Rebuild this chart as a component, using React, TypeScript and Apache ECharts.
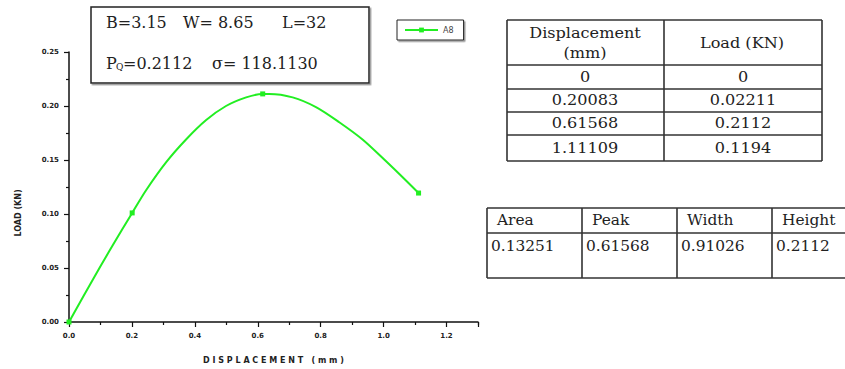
import React, { useEffect, useRef } from "react";
import * as echarts from "echarts";

// Curve, marker points, tick config
const curveX = [0.081, 0.139, 0.245, 0.309, 0.372, 0.436, 0.499, 0.563, 0.637, 0.711, 0.785, 0.859, 0.933, 1.007, 1.071];
const curveY = [0.042, 0.071, 0.122, 0.148, 0.169, 0.187, 0.2, 0.208, 0.2112, 0.208, 0.199, 0.185, 0.169, 0.149, 0.131];
const markerX = [0, 0.20083, 0.61568, 1.11109];
const markerY = [0, 0.101, 0.2112, 0.1194];
const seriesName = "A8";

const infoLine1 = ["B=3.15", "W= 8.65", "L=32"];
const infoPq = ["P", "Q", "=0.2112"];
const infoSigma = "σ= 118.1130";

const table1Header = ["Displacement", "(mm)", "Load (KN)"];
const table1Disp = ["0", "0.20083", "0.61568", "1.11109"];
const table1Load = ["0", "0.02211", "0.2112", "0.1194"];

const table2Header = ["Area", "Peak", "Width", "Height"];
const table2Values = ["0.13251", "0.61568", "0.91026", "0.2112"];

const App: React.FC = () => {
  const ref = useRef<HTMLDivElement>(null);

  useEffect(() => {
    if (!ref.current) return;
    const chart = echarts.init(ref.current, null, { renderer: "svg" });

    const pts: any[] = [];
    curveX.forEach((x, i) => pts.push({ value: [x, curveY[i]], symbol: "none" }));
    markerX.forEach((x, i) => pts.push({ value: [x, markerY[i]] }));
    pts.sort((a, b) => a.value[0] - b.value[0]);

    const serif = "DejaVu Serif";
    const txt = (text: string, x: number, y: number, opts: any = {}) => ({
      type: "text",
      x,
      y,
      scaleX: opts.scaleX ?? 1,
      z: 20,
      style: {
        text,
        fill: "#222",
        fontFamily: serif,
        fontSize: opts.fontSize ?? 14,
        align: opts.align ?? "center",
        verticalAlign: "middle",
      },
    });
    const ln = (x1: number, y1: number, x2: number, y2: number) => ({
      type: "line",
      z: 19,
      shape: { x1, y1, x2, y2 },
      style: { stroke: "#333", lineWidth: 1.6 },
    });

    const graphics: any[] = [];
    // info box
    graphics.push({
      type: "rect",
      z: 15,
      shape: { x: 91, y: 7, width: 278, height: 76 },
      style: { fill: "#fff", stroke: "#222", lineWidth: 1.5, shadowColor: "#999", shadowOffsetX: 1.5, shadowOffsetY: 1.5, shadowBlur: 0 },
    });
    const l1x = [106, 183, 282];
    infoLine1.forEach((t, i) => graphics.push(txt(t, l1x[i], 22, { align: "left", fontSize: 16 })));
    graphics.push(txt(infoPq[0], 106, 63, { align: "left", fontSize: 16 }));
    graphics.push(txt(infoPq[1], 116, 67, { align: "left", fontSize: 9 }));
    graphics.push(txt(infoPq[2], 123, 63, { align: "left", fontSize: 16 }));
    graphics.push(txt(infoSigma, 212, 63, { align: "left", fontSize: 16 }));

    // table 1
    const t1x = [507, 664, 822];
    const t1y = [20, 65, 89, 112, 135, 161];
    t1y.forEach((y) => graphics.push(ln(t1x[0], y, t1x[2], y)));
    t1x.forEach((x) => graphics.push(ln(x, t1y[0], x, t1y[t1y.length - 1])));
    graphics.push(txt(table1Header[0], 585, 33, { scaleX: 1.15 }));
    graphics.push(txt(table1Header[1], 585, 53, { scaleX: 1.15 }));
    graphics.push(txt(table1Header[2], 742, 43, { scaleX: 1.15 }));
    table1Disp.forEach((t, i) => {
      const cy = (t1y[i + 1] + t1y[i + 2]) / 2;
      graphics.push(txt(t, 585, cy, { scaleX: 1.15 }));
      graphics.push(txt(table1Load[i], 743, cy, { scaleX: 1.15 }));
    });

    // table 2
    const t2x = [487, 582, 677, 772, 880];
    const t2y = [208, 233, 278];
    t2y.forEach((y) => graphics.push(ln(t2x[0], y, t2x[t2x.length - 1], y)));
    t2x.forEach((x) => graphics.push(ln(x, t2y[0], x, t2y[t2y.length - 1])));
    table2Header.forEach((t, i) => {
      graphics.push(txt(t, t2x[i] + 10, 220, { align: "left", scaleX: 1.1 }));
      graphics.push(txt(table2Values[i], t2x[i] + 4, 246, { align: "left", scaleX: 1.1 }));
    });

    // y axis name
    graphics.push({
      type: "text",
      x: 18,
      y: 213,
      rotation: Math.PI / 2,
      z: 20,
      style: {
        text: "LOAD (KN)",
        fill: "#222",
        fontFamily: "DejaVu Sans",
        fontSize: 8,
        fontWeight: "bold",
        align: "center",
        verticalAlign: "middle",
      },
    });

    const tickLabel = {
      color: "#222",
      fontSize: 7,
      fontWeight: "bold",
      fontFamily: "DejaVu Sans",
    };

    chart.setOption({
      animation: false,
      backgroundColor: "#fff",
      grid: { left: 69, right: 367, top: 52, bottom: 40, containLabel: false },
      legend: {
        left: 397,
        top: 20,
        orient: "horizontal",
        data: [seriesName],
        itemWidth: 33,
        itemHeight: 6,
        padding: [6, 10, 6, 7],
        borderColor: "#222",
        borderWidth: 1,
        backgroundColor: "#fff",
        shadowColor: "#999",
        shadowOffsetX: 1.5,
        shadowOffsetY: 1.5,
        shadowBlur: 0,
        textStyle: { fontSize: 8, color: "#444", fontFamily: "DejaVu Sans" },
      },
      xAxis: {
        type: "value",
        min: 0,
        max: 1.3,
        interval: 0.2,
        name: "D I S P L A C E M E N T   ( m m )",
        nameLocation: "middle",
        nameGap: 34,
        nameTextStyle: { color: "#222", fontSize: 8, fontWeight: "bold", fontFamily: "DejaVu Sans" },
        axisLine: { show: true, lineStyle: { color: "#111", width: 1.5 } },
        axisTick: { show: true, inside: false, length: 5, lineStyle: { color: "#111", width: 1.2 } },
        minorTick: { show: true, splitNumber: 2, length: 3, lineStyle: { color: "#111", width: 1.2 } },
        splitLine: { show: false },
        axisLabel: {
          ...tickLabel,
          margin: 10,
          formatter: (v: number) => (Math.abs(v / 0.2 - Math.round(v / 0.2)) < 1e-6 ? v.toFixed(1) : ""),
        },
      },
      yAxis: {
        type: "value",
        min: 0,
        max: 0.25,
        interval: 0.05,
        axisLine: { show: true, lineStyle: { color: "#111", width: 1.5 } },
        axisTick: { show: true, inside: false, length: 5, lineStyle: { color: "#111", width: 1.2 } },
        minorTick: { show: true, splitNumber: 2, length: 3, lineStyle: { color: "#111", width: 1.2 } },
        splitLine: { show: false },
        axisLabel: { ...tickLabel, margin: 10, formatter: (v: number) => v.toFixed(2) },
      },
      series: [
        {
          name: seriesName,
          type: "line",
          data: pts,
          smooth: 0.3,
          showSymbol: true,
          symbol: "rect",
          symbolSize: 5,
          lineStyle: { color: "#22ee22", width: 2 },
          itemStyle: { color: "#22ee22" },
        },
      ],
      graphic: graphics,
    });

    return () => chart.dispose();
  }, []);

  return <div ref={ref} style={{ position: "absolute", left: 0, top: 0, width: 845, height: 369 }} />;
};

export default App;
